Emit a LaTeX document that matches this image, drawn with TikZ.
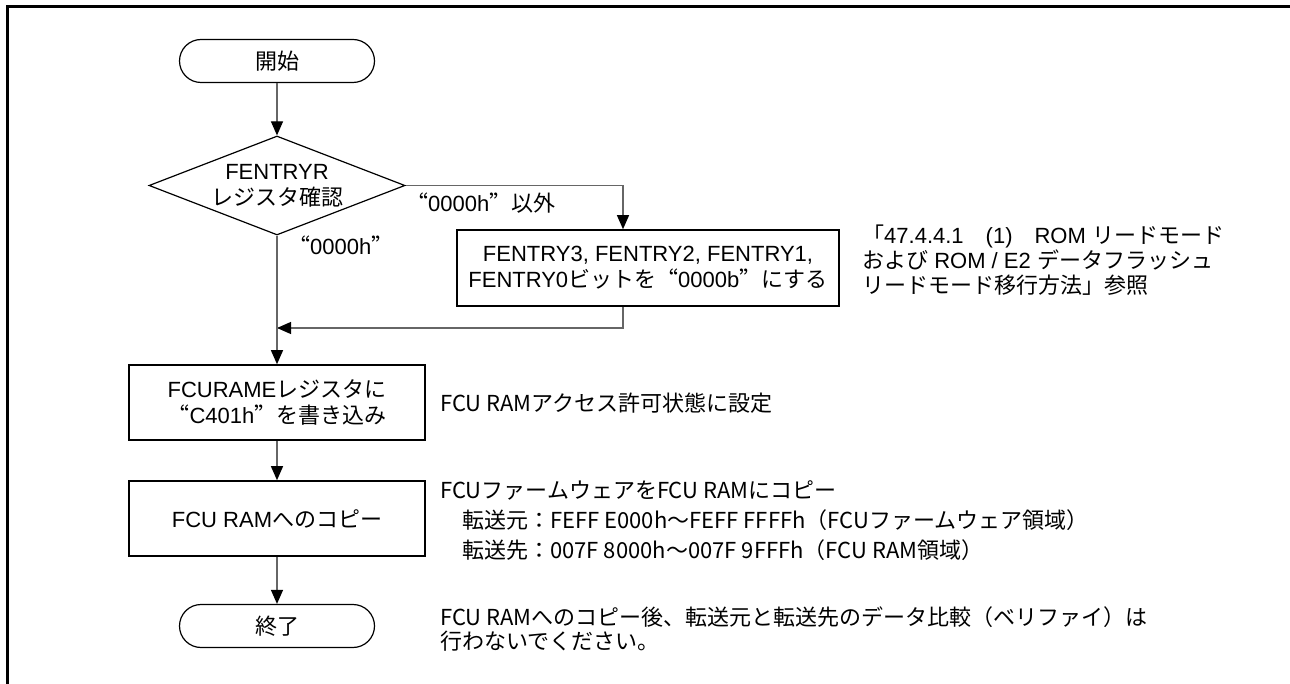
\documentclass[tikz,border=0pt]{standalone}
\usepackage{fontspec}
\setmainfont{Liberation Sans}
\newfontfamily\jpfont{Noto Sans CJK JP}
\newfontfamily\jpqfont[RawFeature=+fwid]{Noto Sans CJK JP}
\usetikzlibrary{arrows.meta,shapes.geometric}
% switch to the Japanese font for CJK characters and quotes
\newXeTeXintercharclass\jpclass
\newXeTeXintercharclass\qclass
\newcount\jpc
\newcommand{\jprange}[2]{%
  \jpc=#1\relax
  \loop\XeTeXcharclass\jpc=\jpclass\ifnum\jpc<#2\advance\jpc by 1\repeat}
\jprange{"3000}{"30FF}
\jprange{"4E00}{"9FFF}
\jprange{"FF00}{"FFEF}
\XeTeXcharclass"201C=\qclass
\XeTeXcharclass"201D=\qclass
\def\latfont{\rmfamily}
\XeTeXinterchartoks 0 \jpclass = {\jpfont}
\XeTeXinterchartoks 4095 \jpclass = {\jpfont}
\XeTeXinterchartoks \qclass \jpclass = {\jpfont}
\XeTeXinterchartoks \jpclass 0 = {\latfont}
\XeTeXinterchartoks \jpclass 4095 = {\latfont}
\XeTeXinterchartoks 0 \qclass = {\jpqfont}
\XeTeXinterchartoks 4095 \qclass = {\jpqfont}
\XeTeXinterchartoks \jpclass \qclass = {\jpqfont}
\XeTeXinterchartoks \qclass 0 = {\latfont}
\XeTeXinterchartoks \qclass 4095 = {\latfont}
\XeTeXinterchartokenstate=1
\newcommand{\bfnt}{\fontsize{22}{26}\selectfont}
\newcommand{\nfnt}[1]{\let\latfont\jpfont\jpfont\fontsize{22}{#1}\selectfont}

\begin{document}
\begin{tikzpicture}[x=1pt,y=-1pt,
  term/.style={draw,line width=1.2pt,rounded corners=21.5pt,
    minimum width=195pt,minimum height=43pt,font=\bfnt},
  proc/.style={draw,line width=1.6pt,minimum width=296pt,
    minimum height=75pt,align=center,font=\bfnt},
  dec/.style={draw,line width=1.2pt,diamond,aspect=2.59,inner sep=0pt,
    minimum width=256pt,minimum height=99pt,align=center,font=\bfnt},
  flow/.style={draw=black!60,line width=1.2pt,
    -{Triangle[length=14pt,width=12pt,color=black]}},
  note/.style={anchor=west,align=left,inner sep=0pt},
  brlabel/.style={anchor=west,inner sep=0pt,font=\bfnt}]
  \useasboundingbox (0,0) rectangle (1290,684);
  \draw[line width=3pt] (7.5,684) -- (7.5,7) -- (1290,7);

  \node[term] (start) at (277,61) {開始};
  \node[dec] (check) at (277,185.5) {FENTRYR\\レジスタ確認};
  \node[proc,minimum width=382pt,minimum height=76pt] (clear) at (648,268)
    {FENTRY3, FENTRY2, FENTRY1,\\FENTRY0ビットを“0000b”にする};
  \node[proc] (ramen) at (277,402.5) {FCURAMEレジスタに\\“C401h”を書き込み};
  \node[proc] (copy) at (277,518.5) {FCU RAMへのコピー};
  \node[term] (fin) at (277,626) {終了};
  \coordinate (join) at (277,328);

  \draw[flow] (start) -- (check);
  \draw[flow] (check.east) -| ([xshift=-25pt]clear.north);
  \draw[flow] ([xshift=-25pt]clear.south) |- (join);
  \draw[flow] (check.south) -- (ramen);
  \draw[flow] (ramen) -- (copy);
  \draw[flow] (copy) -- (fin);

  \node[brlabel] (lne) at (406,203) {“0000h”以外};
  \node[brlabel] (leq) at (288,245) {“0000h”};

  \node[note,font=\fontsize{22}{25}\selectfont] (refnote) at (862,260)
    {「47.4.4.1　(1)　ROM リードモード\\および ROM / E2 データフラッシュ\\リードモード移行方法」参照};
  \node[note,font=\nfnt{26}] (ramnote) at (440,403) {FCU RAMアクセス許可状態に設定};
  \node[note,font=\nfnt{30}] (copynote) at (440,521)
    {FCUファームウェアをFCU RAMにコピー\\
     　転送元：FEFF E000h～FEFF FFFFh（FCUファームウェア領域）\\
     　転送先：007F 8000h～007F 9FFFh（FCU RAM領域）};
  \node[note,font=\nfnt{24}] (endnote) at (440,629)
    {FCU RAMへのコピー後、転送元と転送先のデータ比較（ベリファイ）は\\行わないでください。};
\end{tikzpicture}
\end{document}
